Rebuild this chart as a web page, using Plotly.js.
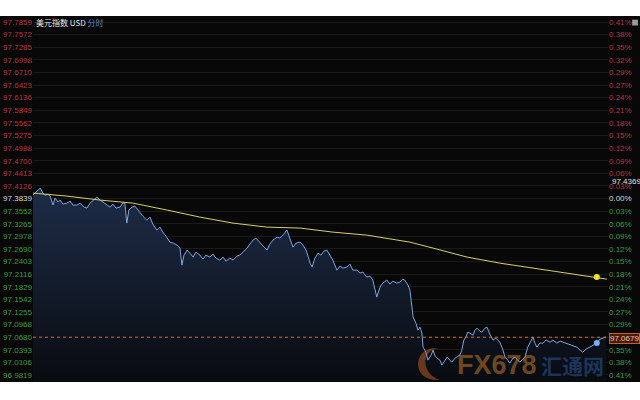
<!DOCTYPE html>
<html>
<head>
<meta charset="utf-8">
<script src="https://cdn.plot.ly/plotly-3.0.1.min.js"></script>
<style>
html,body{margin:0;padding:0;background:#ffffff;width:640px;height:400px;overflow:hidden;}
#chart{position:absolute;left:0;top:16px;width:640px;height:366px;}
</style>
</head>
<body>
<div id="chart"></div>
<script>
// ---- data (minutes since session open, price) ----
const times = [0,8,18,25,30,38,43,50,55,63,68,75,85,93,100,110,118,128,135,143,153,160,168,175,183,193,200,208,218,225,230,235,240,248,255,263,268,275,285,293,300,310,318,325,333,343,351,361,368,373,378,386,393,401,408,418,426,433,443,451,458,468,476,483,493,501,511,518,526,536,543,551,558,568,576,586,593,601,611,618,628,636,643,651,659,669,676,684,694,699,706,714,721,729,736,744,751,761,769,776,786,794,801,811,819,826,836,844,851,861,869,876,886,894,901,911,919,926,931,939,944,947,952,959,964,969,974,977,984,989,997,1002,1007,1012,1019,1024,1032,1037,1044,1049,1057,1062,1069,1074,1079,1084,1089,1094,1102,1107,1112,1119,1124,1132,1137,1144,1152,1159,1169,1177,1182,1189,1194,1202,1207,1214,1219,1227,1232,1239,1247,1252,1257,1262,1269,1277,1285,1295,1302,1312,1320,1327,1337,1345,1352,1362,1370,1377,1385,1395,1402,1412,1420,1427,1435];
const prices = [97.3916,97.3985,97.4076,97.3962,97.3916,97.3939,97.3894,97.3689,97.3848,97.3757,97.3803,97.3711,97.3734,97.3780,97.3689,97.3689,97.3734,97.3643,97.3620,97.3734,97.3825,97.3871,97.3803,97.3757,97.3689,97.3643,97.3711,97.3620,97.3643,97.3734,97.3734,97.3278,97.3575,97.3643,97.3666,97.3575,97.3506,97.3438,97.3347,97.3415,97.3256,97.3119,97.3187,97.3073,97.2982,97.2845,97.2823,97.2777,97.2709,97.2321,97.2549,97.2663,97.2595,97.2504,97.2618,97.2549,97.2458,97.2549,97.2504,97.2572,97.2481,97.2435,97.2504,97.2413,97.2481,97.2435,97.2527,97.2549,97.2618,97.2709,97.2800,97.2891,97.2936,97.2845,97.2754,97.2663,97.2800,97.2891,97.2959,97.2936,97.3028,97.3119,97.2936,97.2731,97.2823,97.2845,97.2777,97.2663,97.2367,97.2276,97.2481,97.2595,97.2549,97.2640,97.2663,97.2549,97.2435,97.2208,97.2299,97.2253,97.2276,97.2344,97.2208,97.2208,97.2140,97.2162,97.2048,97.2071,97.1980,97.1592,97.1820,97.1911,97.1980,97.1889,97.1957,97.1911,97.1934,97.2002,97.1980,97.1866,97.1752,97.1524,97.1137,97.1000,97.0840,97.0909,97.0772,97.0453,97.0339,97.0157,97.0271,97.0385,97.0248,97.0202,97.0157,97.0043,97.0157,97.0225,97.0157,97.0111,97.0202,97.0225,97.0271,97.0385,97.0613,97.0681,97.0795,97.0772,97.0726,97.0840,97.0886,97.0818,97.0795,97.0886,97.0909,97.0749,97.0613,97.0658,97.0567,97.0385,97.0225,97.0157,97.0088,97.0202,97.0225,97.0157,97.0111,97.0180,97.0225,97.0453,97.0613,97.0681,97.0545,97.0453,97.0545,97.0545,97.0613,97.0567,97.0613,97.0545,97.0590,97.0567,97.0545,97.0522,97.0499,97.0453,97.0385,97.0339,97.0408,97.0453,97.0499,97.0545,97.0636,97.0658,97.0681];
const avgTimes = [0,85,168,250,336,418,501,586,669,751,836,944,1002,1087,1169,1252,1337,1412,1437];
const avgValues = [97.3962,97.3894,97.3803,97.3734,97.3575,97.3415,97.3278,97.3187,97.3165,97.3073,97.3005,97.2845,97.2709,97.2504,97.2367,97.2253,97.2139,97.2048,97.2002];
const markTime = [1412];
const markPrice = [97.0545];
const markAvg = [97.2048];
const prevClose = 97.3839;
const lastPrice = 97.0679;
const highLabel = "97.4369";
const lastLabel = "97.0679";
const priceTicks = ["97.7859","97.7572","97.7285","97.6998","97.6710","97.6423","97.6136","97.5849","97.5562","97.5275","97.4988","97.4700","97.4413","97.4126","97.3839","97.3552","97.3265","97.2978","97.2690","97.2403","97.2116","97.1829","97.1542","97.1255","97.0968","97.0680","97.0393","97.0106","96.9819"];
const pctTicks = ["0.41%","0.38%","0.35%","0.32%","0.29%","0.27%","0.24%","0.21%","0.18%","0.15%","0.12%","0.09%","0.06%","0.03%","0.00%","0.03%","0.06%","0.09%","0.12%","0.15%","0.18%","0.21%","0.24%","0.27%","0.29%","0.32%","0.35%","0.38%","0.41%"];

const RED = '#b8303a', GREEN = '#3a9a46', WHITE = '#d8d8d8';
const tickVals = priceTicks.map(Number);
function colorFor(v){ return v > prevClose + 1e-6 ? RED : (v < prevClose - 1e-6 ? GREEN : WHITE); }
const leftText = priceTicks.map((t,i)=>`<span style="color:${colorFor(tickVals[i])}">${t}</span>`);
const rightText = pctTicks.map((t,i)=>`<span style="color:${colorFor(tickVals[i])}">${t}</span>`);

const yRange = [96.9659, 97.7996];

const traces = [
  {
    x: times, y: prices, type: 'scatter', mode: 'lines',
    line: {color: '#7ea4e2', width: 1},
    fill: 'tozeroy',
    fillgradient: {type: 'vertical', start: yRange[0], stop: 97.41,
      colorscale: [[0, '#080b10'], [1, '#1d2d48']]},
    hoverinfo: 'skip'
  },
  {
    x: avgTimes, y: avgValues, type: 'scatter', mode: 'lines', yaxis: 'y2',
    line: {color: '#d6d06a', width: 1}, hoverinfo: 'skip'
  },
  {
    x: markTime, y: markPrice, type: 'scatter', mode: 'markers',
    marker: {color: '#78aef5', size: 6}, hoverinfo: 'skip'
  },
  {
    x: markTime, y: markAvg, type: 'scatter', mode: 'markers',
    marker: {color: '#f5ea10', size: 6}, hoverinfo: 'skip'
  }
];

const tickFont = {family: 'Liberation Sans, Arial, sans-serif', size: 8, color: WHITE};

const layout = {
  width: 640, height: 366,
  margin: {l: 33, r: 32, t: 0, b: 0, pad: 0},
  paper_bgcolor: '#080808',
  plot_bgcolor: '#080808',
  showlegend: false,
  xaxis: {range: [0, 1440], showgrid: false, zeroline: false, showticklabels: false, ticks: '', fixedrange: true},
  yaxis: {
    range: yRange, tickvals: tickVals, ticktext: leftText, tickfont: tickFont,
    showgrid: true, gridcolor: '#1a1a1a', gridwidth: 1, zeroline: false, ticks: '', ticklen: 0
  },
  yaxis2: {
    range: yRange, overlaying: 'y', side: 'right', tickvals: tickVals, ticktext: rightText,
    tickfont: tickFont, showgrid: false, zeroline: false, ticks: '', ticklen: 0
  },
  shapes: [
    {type: 'line', xref: 'paper', yref: 'y', x0: 0, x1: 1, y0: lastPrice, y1: lastPrice,
     line: {color: '#c8702e', width: 1, dash: 'dot'}},
    {type: 'rect', xref: 'paper', yref: 'paper', x0: 1.042, x1: 1.052, y0: 0.974, y1: 0.99,
     fillcolor: '#9a9a9a', line: {width: 0}},
    {type: 'path', xref: 'paper', yref: 'paper', layer: 'above',
     path: 'M 0.7043 0.0929 C 0.6591 0.0984 0.6557 0.0 0.7078 0.0055 C 0.6765 0.0219 0.6730 0.0820 0.7043 0.0929 Z',
     fillcolor: 'rgba(200,100,40,0.5)', line: {width: 0}}
  ],
  annotations: [
    {xref: 'paper', yref: 'paper', x: 0, y: 1, xanchor: 'left', yanchor: 'top', xshift: 1, yshift: 1,
     showarrow: false, font: {family: 'Noto Sans CJK SC, sans-serif', size: 8, color: '#e8e8e8'},
     text: '美元指数 USD <span style="color:#4f86d0">分时</span>'},
    {xref: 'paper', yref: 'y', x: 1, y: 97.423, xanchor: 'left', yanchor: 'middle', xshift: 2,
     showarrow: false, font: {family: 'Liberation Sans, Arial, sans-serif', size: 8, color: '#e0e0e0'},
     text: highLabel},
    {xref: 'paper', yref: 'y', x: 1, y: lastPrice - 0.004, xanchor: 'left', yanchor: 'middle', xshift: 1,
     showarrow: false, font: {family: 'Liberation Sans, Arial, sans-serif', size: 8, color: '#e8c8a8'},
     bgcolor: '#4a1a10', bordercolor: '#c0602a', borderwidth: 1, borderpad: 0,
     text: lastLabel},
    {xref: 'paper', yref: 'paper', x: 0.807, y: 0.0, xanchor: 'center', yanchor: 'bottom', yshift: 0,
     showarrow: false, font: {family: 'Liberation Sans, sans-serif', size: 27, color: 'rgba(200,120,40,0.55)'},
     text: '<b>FX678</b>'},
    {xref: 'paper', yref: 'paper', x: 0.939, y: 0.0, xanchor: 'center', yanchor: 'bottom', yshift: 0,
     showarrow: false, font: {family: 'Noto Sans CJK SC, sans-serif', size: 21, color: 'rgba(40,80,140,0.6)'},
     text: '<b>汇通网</b>'}
  ]
};

Plotly.newPlot('chart', traces, layout, {staticPlot: true, displayModeBar: false});
</script>
</body>
</html>
